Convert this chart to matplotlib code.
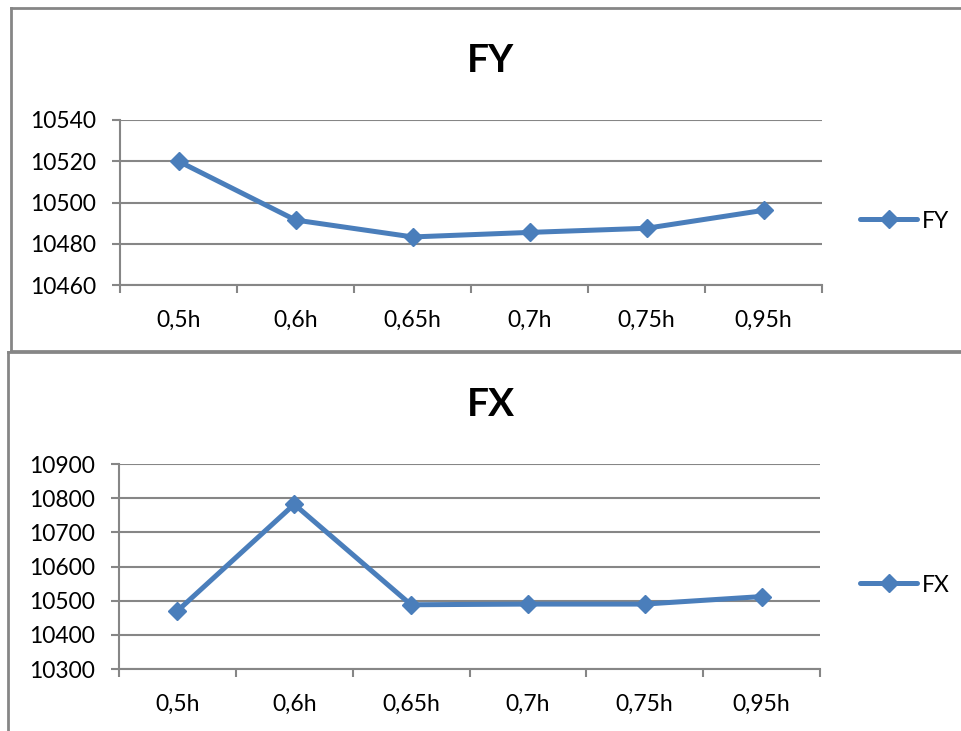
import matplotlib.pyplot as plt
from matplotlib.lines import Line2D

plt.rcParams['font.family'] = ['Lato', 'DejaVu Sans']

categories = ["0,5h", "0,6h", "0,65h", "0,7h", "0,75h", "0,95h"]
fy_values = [10520, 10491.5, 10483.3, 10485.5, 10487.5, 10496.2]
fx_values = [10470, 10782, 10488, 10490, 10490, 10512]
fy_ticks = [10460, 10480, 10500, 10520, 10540]
fx_ticks = [10300, 10400, 10500, 10600, 10700, 10800, 10900]

W, H = 961, 731
blue = "#4A7EBB"
grey = "#868686"

fig = plt.figure(figsize=(W / 100, H / 100), dpi=100)


def px_axes(left, top, right, bottom):
    return fig.add_axes([left / W, 1 - bottom / H, (right - left) / W, (bottom - top) / H])


def draw_panel(ax, values, ticks, name, title_y, legend_y):
    x = [i + 0.5 for i in range(len(categories))]
    ax.plot(x, values, color=blue, linewidth=3.6, marker="D", markersize=9,
            solid_capstyle="round", label=name, zorder=3)
    ax.set_xlim(0, len(categories))
    ax.set_ylim(ticks[0], ticks[-1])
    ax.set_yticks(ticks)
    ax.set_yticklabels([str(t) for t in ticks])
    ax.set_xticks(range(len(categories) + 1))
    ax.set_xticklabels([])
    ax.set_xticks(x, minor=True)
    ax.set_xticklabels(categories, minor=True)
    ax.tick_params(axis="x", which="minor", length=0, pad=18, labelsize=16.5)
    ax.tick_params(axis="x", which="major", length=6, width=1.5, color=grey)
    ax.tick_params(axis="y", length=6, width=1.5, color=grey, labelsize=16.5, pad=11)
    ax.yaxis.grid(True, color=grey, linewidth=1.5)
    ax.set_axisbelow(True)
    for s in ["top", "right"]:
        ax.spines[s].set_visible(False)
    for s in ["left", "bottom"]:
        ax.spines[s].set_color(grey)
        ax.spines[s].set_linewidth(1.5)
    fig.text(491 / W, 1 - title_y / H, name, ha="center", va="center",
             fontsize=28, fontweight="bold")
    ax.legend(loc="center left", bbox_to_anchor=(860 / W, 1 - legend_y / H),
              bbox_transform=fig.transFigure, frameon=False, fontsize=16.5,
              handlelength=2.5, handletextpad=0.2, borderpad=0, borderaxespad=0)


ax1 = px_axes(120, 120, 822, 285)
draw_panel(ax1, fy_values, fy_ticks, "FY", 60, 221)

ax2 = px_axes(119, 464, 820, 669)
draw_panel(ax2, fx_values, fx_ticks, "FX", 405, 585)

# chart area borders
for xs, ys in [((11, 11), (8, 351)), ((11, W), (8, 8)), ((11, W), (351, 351)),
               ((8, 8), (352, H)), ((8, W), (352, 352))]:
    fig.add_artist(Line2D([v / W for v in xs], [1 - v / H for v in ys],
                          color=grey, linewidth=2, transform=fig.transFigure))

fig.savefig("out.png", dpi=100)
